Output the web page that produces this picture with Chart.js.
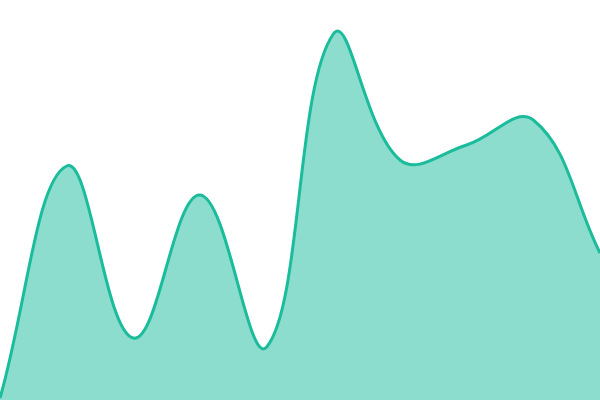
<!DOCTYPE html>
<html><head><meta charset="utf-8">
<script src="https://cdn.jsdelivr.net/npm/chart.js@4"></script>
<style>html,body{margin:0;padding:0;background:#fff}#wrap{width:600px;height:400px}</style>
</head><body><div id="wrap"><canvas id="c"></canvas></div>
<script>
const labels = ["1","2","3","4","5","6","7","8","9","10"];
const values = [2, 234, 62, 205, 53, 366, 240, 255, 280, 147];
new Chart(document.getElementById('c'), {
  type: 'line',
  data: { labels: labels, datasets: [{
    data: values,
    borderColor: '#1abc9c',
    backgroundColor: 'rgba(26,188,156,0.5)',
    borderWidth: 3,
    fill: 'origin',
    tension: 0.4,
    pointRadius: 0
  }]},
  options: {
    responsive: true, maintainAspectRatio: false, animation: false,
    layout: { padding: 0 },
    plugins: { legend: { display: false }, tooltip: { enabled: false } },
    scales: {
      x: { display: false, offset: false },
      y: { display: false, min: 0, max: 400 }
    }
  }
});
</script></body></html>
